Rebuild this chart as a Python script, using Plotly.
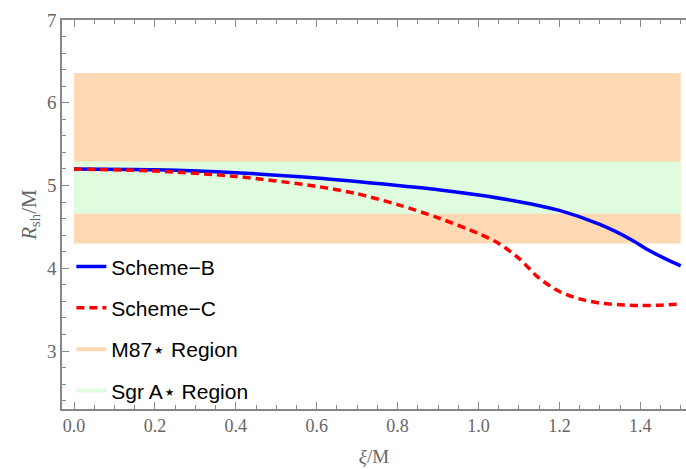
import plotly.graph_objects as go

# Data
xi_B = [0.0, 0.2, 0.4, 0.6, 0.8, 0.9, 1.0, 1.1, 1.2, 1.3, 1.38, 1.42, 1.46, 1.5]
rsh_B = [5.2, 5.19, 5.155, 5.09, 5.0, 4.95, 4.885, 4.805, 4.70, 4.53, 4.34, 4.22, 4.12, 4.03]

xi_C = [0.0, 0.2, 0.4, 0.6, 0.7, 0.8, 0.9, 1.0, 1.05, 1.1, 1.15, 1.2, 1.25, 1.3, 1.35, 1.4, 1.45, 1.5]
rsh_C = [5.2, 5.175, 5.11, 4.99, 4.9, 4.77, 4.61, 4.42, 4.30, 4.12, 3.88, 3.72, 3.63, 3.58, 3.56, 3.55, 3.555, 3.57]

xi_span = [0.0, 1.5]
m87_range = [4.30, 6.36]
sgr_range = [4.66, 5.29]

labels = ["Scheme\u2212B", "Scheme\u2212C", "M87\u22c6 Region", "Sgr A\u22c6 Region"]

orange = "#FED9B4"
green = "#DFFCDF"

fig = go.Figure()

def band(lo, hi, color):
    fig.add_trace(go.Scatter(
        x=[xi_span[0], xi_span[1], xi_span[1], xi_span[0], xi_span[0]],
        y=[lo, lo, hi, hi, lo], fill="toself", fillcolor=color,
        line=dict(width=0), mode="lines", showlegend=False, hoverinfo="skip"))

band(m87_range[0], m87_range[1], orange)
band(sgr_range[0], sgr_range[1], green)

fig.add_trace(go.Scatter(x=xi_B, y=rsh_B, mode="lines", name=labels[0],
                         line=dict(color="#0000FF", width=3.5, shape="spline", smoothing=0.8),
                         legendgroup="a"))
fig.add_trace(go.Scatter(x=xi_C, y=rsh_C, mode="lines", name=labels[1],
                         line=dict(color="#FF0000", width=3.5, dash="8px,5px", shape="spline", smoothing=0.8),
                         legendgroup="b"))
fig.add_trace(go.Scatter(x=[None], y=[None], mode="lines", name=labels[2],
                         line=dict(color=orange, width=4), legendgroup="c"))
fig.add_trace(go.Scatter(x=[None], y=[None], mode="lines", name=labels[3],
                         line=dict(color=green, width=4), legendgroup="d"))

serif = "Liberation Serif, Times New Roman, serif"
tickfont = dict(family=serif, size=18, color="#666666")
axiscol = "#888888"

fig.update_layout(
    width=686, height=469,
    margin=dict(l=62, r=0, t=20, b=60),
    plot_bgcolor="white", paper_bgcolor="white",
    legend=dict(x=0.015, y=0.418, xanchor="left", yanchor="top",
                font=dict(family="Liberation Sans, Arial, sans-serif", size=21, color="black"),
                bgcolor="rgba(0,0,0,0)", tracegroupgap=11, traceorder="grouped"),
    xaxis=dict(range=[-0.0297, 1.513], showgrid=False, zeroline=False,
               tickmode="array", tickvals=[0, 0.2, 0.4, 0.6, 0.8, 1.0, 1.2, 1.4],
               ticktext=["0.0", "0.2", "0.4", "0.6", "0.8", "1.0", "1.2", "1.4"],
               ticks="inside", ticklen=7, tickwidth=1, tickcolor=axiscol,
               showline=True, linecolor=axiscol, linewidth=1.5, mirror="allticks",
               minor=dict(tickvals=[i * 0.05 for i in range(31)], ticks="inside", ticklen=4, tickcolor=axiscol),
               tickfont=tickfont,
               title=dict(text="<i>ξ</i>/M", font=dict(family=serif, size=19, color="#666666"), standoff=14)),
    yaxis=dict(range=[2.3, 7.0], showgrid=False, zeroline=False,
               tickmode="array", tickvals=[3, 4, 5, 6, 7], ticktext=["3", "4", "5", "6", "7"],
               ticks="inside", ticklen=7, tickwidth=1, tickcolor=axiscol,
               showline=True, linecolor=axiscol, linewidth=1.5,
               minor=dict(tickvals=[2.4 + i * 0.2 for i in range(24)], ticks="inside", ticklen=4, tickcolor=axiscol),
               tickfont=dict(family=serif, size=19, color="#666666"),
               title=dict(text="<i>R</i><sub>sh</sub>/M", font=dict(family=serif, size=21, color="#666666"), standoff=5)),
)

fig.write_html("out.html")
